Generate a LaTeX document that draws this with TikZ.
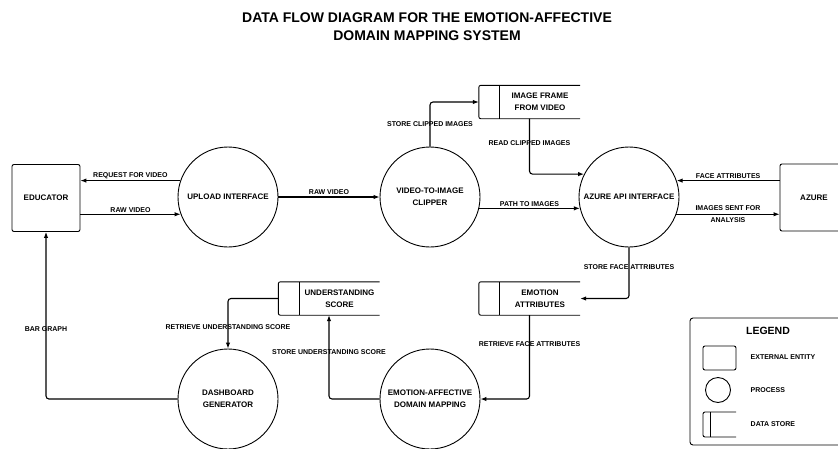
\documentclass[tikz,border=0pt]{standalone}
\usepackage{fontspec}
\setmainfont{Liberation Sans}
\usetikzlibrary{arrows.meta}

\newcommand{\procfont}{\fontsize{8}{12}\selectfont\bfseries}
\newcommand{\flowfont}{\fontsize{7}{9}\selectfont\bfseries}
\newcommand{\titlefont}{\fontsize{14}{18}\selectfont\bfseries}

\tikzset{
  entity/.style={draw, line width=0.9pt, rounded corners=2pt, minimum width=68pt, minimum height=67pt, font=\procfont},
  process/.style={draw, circle, line width=0.9pt, minimum size=100pt, inner sep=0pt, align=center, font=\procfont},
  storebox/.style={minimum width=80pt, minimum height=33pt, inner sep=0pt, align=center, font=\procfont},
  flow/.style={line width=1.1pt, rounded corners=3pt, -{Latex[length=6pt,width=4.5pt]}},
  flowlabel/.style={font=\flowfont, inner sep=1.5pt},
}

\begin{document}
\begin{tikzpicture}[x=1pt, y=-1pt]
	\useasboundingbox (0,0) rectangle (838,448);
	\clip (0,0) rectangle (838,448);

	\node[font=\titlefont, align=center] (title) at (427,27) {DATA FLOW DIAGRAM FOR THE EMOTION-AFFECTIVE\\DOMAIN MAPPING SYSTEM};

	% external entities
	\node[entity] (educator) at (46,198) {EDUCATOR};
	\node[entity] (azure) at (814,197.5) {AZURE};

	% processes
	\node[process] (upload) at (228,197) {UPLOAD INTERFACE};
	\node[process] (clipper) at (430,197) {VIDEO-TO-IMAGE\\CLIPPER};
	\node[process] (azureapi) at (629,197) {AZURE API INTERFACE};
	\node[process] (dashboard) at (228,399) {DASHBOARD\\GENERATOR};
	\node[process] (mapping) at (430,399) {EMOTION-AFFECTIVE\\DOMAIN MAPPING};

	% data stores
	\node[storebox] (frame) at (540,102) {IMAGE FRAME\\FROM VIDEO};
	\node[storebox] (emotion) at (540,298.5) {EMOTION\\ATTRIBUTES};
	\node[storebox] (understanding) at (339.5,298.5) {UNDERSTANDING\\SCORE};
	\foreach \s in {frame,emotion,understanding}
	{
		\draw[line width=0.9pt, rounded corners=2pt] (\s.north east) -- ([xshift=-21pt]\s.north west) -- ([xshift=-21pt]\s.south west) -- (\s.south east);
		\draw[line width=0.9pt] (\s.north west) -- (\s.south west);
	}

	% flows
	\draw[flow] (upload.161) -- (upload.161 -| educator.east) node[flowlabel, midway, above] {REQUEST FOR VIDEO};
	\draw[flow] (educator.east |- upload.200) -- (upload.200) node[flowlabel, midway, above] {RAW VIDEO};
	\draw[flow] (upload.east) -- (clipper.west) node[flowlabel, midway, above] {RAW VIDEO};
	\draw[flow] (clipper.north) |- ([xshift=-21pt]frame.west) node[flowlabel, pos=0.25] {STORE CLIPPED IMAGES};
	\draw[flow] ([xshift=-10.5pt]frame.south) |- (azureapi.153) node[flowlabel, pos=0.22] {READ CLIPPED IMAGES};
	\draw[flow] (clipper.-13) -- (azureapi.193) node[flowlabel, midway, above] {PATH TO IMAGES};
	\draw[flow] (azure.west |- azureapi.19) -- (azureapi.19) node[flowlabel, midway, above] {FACE ATTRIBUTES};
	\draw[flow] (azureapi.-20) -- (azureapi.-20 -| azure.west) node[flowlabel, midway, align=center] {IMAGES SENT FOR\\[3pt]ANALYSIS};
	\draw[flow] (azureapi.south) |- (emotion.east) node[flowlabel, pos=0.19] {STORE FACE ATTRIBUTES};
	\draw[flow] ([xshift=-10.5pt]emotion.south) |- (mapping.east) node[flowlabel, pos=0.17] {RETRIEVE FACE ATTRIBUTES};
	\draw[flow] (mapping.west) -| ([xshift=-10.5pt]understanding.south) node[flowlabel, pos=0.78] {STORE UNDERSTANDING SCORE};
	\draw[flow] ([xshift=-21pt]understanding.west) -| (dashboard.north) node[flowlabel, pos=0.79] {RETRIEVE UNDERSTANDING SCORE};
	\draw[flow] (dashboard.west) -| (educator.south) node[flowlabel, pos=0.71] {BAR GRAPH};

	% legend
	\draw[line width=0.9pt, rounded corners=3pt] (690,318) rectangle (846,445);
	\node[font=\fontsize{10.5}{12}\selectfont\bfseries] (legendtitle) at (768,331) {LEGEND};
	\draw[line width=0.9pt, rounded corners=2pt] (703,346) rectangle (736,370);
	\draw[line width=0.9pt] (718,390) circle (12.5pt);
	\draw[line width=0.9pt, rounded corners=2pt] (736,412) -- (703,412) -- (703,437) -- (736,437);
	\draw[line width=0.9pt] (710,412) -- (710,437);
	\node[flowlabel, anchor=west] (legendentity) at (749,357) {EXTERNAL ENTITY};
	\node[flowlabel, anchor=west] (legendprocess) at (749,390) {PROCESS};
	\node[flowlabel, anchor=west] (legendstore) at (749,424) {DATA STORE};
\end{tikzpicture}
\end{document}
